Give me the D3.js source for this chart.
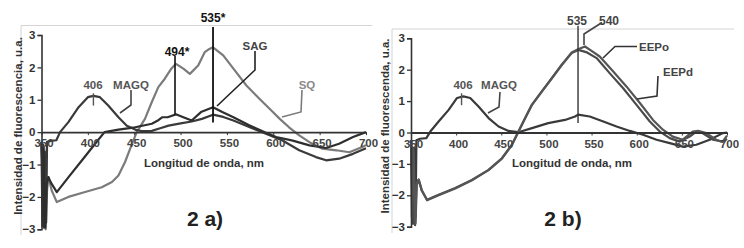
<!DOCTYPE html>
<html><head><meta charset="utf-8">
<script src="https://cdn.jsdelivr.net/npm/d3@7"></script>
<style>
html,body{margin:0;padding:0;background:#fff;}
svg{display:block;font-family:"Liberation Sans",Arial,sans-serif;font-weight:bold;}
</style></head>
<body>
<svg id="c" width="744" height="248"></svg>
<script>
// ---------- data ----------
const xTicks = [350, 400, 450, 500, 550, 600, 650, 700];
const yTicks = [-3, -2, -1, 0, 1, 2, 3];
const xTitle = "Longitud de onda, nm";
const yTitleA = "Intensidad de fluorescencia, u.a.";
const yTitleB = "Intensidad de fluorescenda, u.a.";

// Panel 2 a) : [wavelength nm, intensity]
const magqA = [[350,-0.3],[351.5,-1.5],[352.5,-2.95],[353.5,-0.6],[355,-2.8],[356,-0.3],[360,-0.27],[366,-0.25],[370,0],[379,0.31],[390,0.77],[400,1.08],[406,1.12],[413,1.08],[422,0.82],[433,0.46],[442,0.2],[451,0.08],[458,0.03],[469,0.04],[478,0.12],[487,0.2],[500,0.27],[512,0.33],[523,0.41],[535,0.54],[546,0.47],[557,0.36],[574,0.16],[592,-0.05],[610,-0.26],[628,-0.56],[646,-0.77],[657,-0.87],[671,-0.82],[686,-0.67],[700,-0.5]];
const sagA = [[350,-0.3],[351,-2.9],[352,-0.4],[354,-2.95],[355.5,-1.6],[357.5,-1.39],[360,-1.55],[366.5,-1.85],[380,-1.36],[395,-0.82],[410,-0.28],[418,0],[433,0.08],[451,0.15],[469,0.26],[475,0.35],[480,0.46],[486,0.46],[490,0.5],[495,0.55],[503,0.46],[512,0.36],[522,0.62],[535,0.77],[545,0.62],[557,0.46],[574,0.21],[589,0.02],[603,-0.15],[621,-0.26],[639,-0.41],[657,-0.49],[671,-0.36],[686,-0.15],[700,0]];
const sqA = [[350,-0.3],[352,-2.8],[353,-0.5],[354.5,-3.0],[356,-1.8],[357.5,-1.39],[361,-1.8],[366.5,-2.16],[379,-2.0],[397,-1.85],[415,-1.7],[426,-1.54],[433,-1.34],[440,-0.93],[447,-0.41],[452.7,0],[461.6,0.41],[469,0.93],[476,1.39],[483,1.65],[490,1.96],[495,2.11],[503,1.96],[510,1.8],[519,2.06],[526,2.47],[530,2.55],[535,2.62],[546,2.37],[557,1.96],[571,1.44],[585,1.03],[596,0.72],[607,0.41],[617,0.15],[628,-0.1],[639,-0.31],[653,-0.51],[668,-0.56],[682,-0.62],[696,-0.46],[700,-0.4]];

// Panel 2 b)
const magqB = [[350,-0.25],[351.5,-1.4],[352.5,-2.9],[353.5,-0.5],[355,-2.7],[356,-0.25],[360,-0.2],[367,-0.18],[371.4,0.03],[380.6,0.35],[391.7,0.72],[401,1.1],[408,1.15],[415.6,1.1],[424.8,0.83],[435.9,0.46],[447,0.19],[458,0.05],[469,0.01],[484,0.14],[502,0.3],[520.6,0.4],[531.7,0.51],[535,0.57],[548,0.51],[563,0.35],[577.7,0.19],[592.4,0.05],[607,-0.07],[622,-0.23],[636.6,-0.34],[651,-0.45],[666,-0.39],[680.8,-0.23],[695.5,-0.02],[700,0]];
const eepdB = [[350,-0.25],[352,-2.9],[353,-0.6],[354.5,-2.95],[356,-1.7],[358.5,-1.5],[362,-1.85],[367.8,-2.14],[380.6,-1.98],[399,-1.77],[417.5,-1.51],[435.9,-1.19],[450.7,-0.82],[461.7,-0.39],[469,0.03],[476.4,0.46],[483.8,0.88],[494.9,1.31],[505.9,1.73],[517,2.16],[528,2.53],[535.3,2.63],[545,2.55],[555.6,2.37],[570,1.89],[585,1.41],[599.8,0.88],[614.5,0.35],[625.6,0.03],[636.6,-0.18],[647.7,-0.29],[658.7,-0.13],[666,0.03],[672,0.0],[684.5,-0.23],[695.5,-0.29],[700,-0.2]];
const eepoB = [[350,-0.25],[351,-2.7],[352.5,-0.5],[355,-2.9],[356.5,-1.6],[358.5,-1.5],[362,-1.85],[367.8,-2.16],[380.6,-2.0],[399,-1.78],[417.5,-1.52],[435.9,-1.2],[450.7,-0.83],[461.7,-0.4],[469,0.02],[476.4,0.45],[483.8,0.87],[494.9,1.3],[505.9,1.72],[517,2.15],[528,2.55],[535,2.65],[542.7,2.74],[550,2.6],[559,2.42],[574,1.94],[588.8,1.46],[603.5,0.94],[618,0.4],[629,0.09],[640,-0.13],[651,-0.23],[662,0.03],[668,0.05],[677,-0.02],[688,-0.23],[695,-0.3],[700,-0.1]];

// ---------- drawing ----------
const svg = d3.select("#c");

function panel(cfg) {
  const g = svg.append("g");
  const x = d3.scaleLinear().domain([350, 700]).range(cfg.xr);
  const y = d3.scaleLinear().domain([-3, 3]).range(cfg.yr);

  // frame
  g.append("path").attr("d", cfg.frame).attr("fill", "none").attr("stroke", "#d4d4d4").attr("stroke-width", 1);

  // series
  const line = d3.line().x(d => x(d[0])).y(d => y(d[1]));
  cfg.series.forEach(s => {
    g.append("path").datum(s.data).attr("d", line).attr("fill", "none")
      .attr("stroke", s.color).attr("stroke-width", s.w || 2.2).attr("stroke-linejoin", "round");
  });

  // axes
  const yAx = g.append("g").attr("transform", `translate(${x(350)},0)`)
    .call(d3.axisLeft(y).tickValues(yTicks).tickSize(4).tickFormat(d3.format("d")));
  yAx.select(".domain").attr("stroke", "#333").attr("stroke-width", 1.6);
  yAx.selectAll(".tick line").attr("stroke", "#333").attr("stroke-width", 1.3);
  yAx.selectAll("text").attr("font-size", 11.5).attr("font-weight", "bold").attr("fill", "#333")
    .attr("font-family", "Liberation Sans, Arial, sans-serif").attr("x", -6);

  const xAx = g.append("g").attr("transform", `translate(0,${y(0)})`)
    .call(d3.axisBottom(x).tickValues(xTicks).tickSize(3).tickSizeOuter(0));
  xAx.select(".domain").attr("stroke", "#333").attr("stroke-width", 1.8);
  xAx.selectAll(".tick line").attr("stroke", "#333");
  xAx.selectAll("text").attr("font-size", 11.5).attr("font-weight", "bold").attr("fill", "#444")
    .attr("font-family", "Liberation Sans, Arial, sans-serif").attr("dx", 2).attr("y", 7);

  // titles
  g.append("text").attr("x", cfg.xTitleX).attr("y", 167).attr("text-anchor", "middle")
    .attr("font-size", 11.5).attr("fill", "#333").text(xTitle);
  g.append("text").attr("transform", `translate(${cfg.yTitleX},${cfg.yTitleY}) rotate(-90)`)
    .attr("text-anchor", "middle").attr("font-size", 11.5).attr("fill", "#333").text(cfg.yTitle);
  g.append("text").attr("x", cfg.tagX).attr("y", 226).attr("text-anchor", "middle")
    .attr("font-size", 21).attr("fill", "#222").text(cfg.tag);

  // annotations
  cfg.marks.forEach(m => {
    g.append("line").attr("x1", x(m.nm)).attr("x2", x(m.nm)).attr("y1", y(m.v1)).attr("y2", y(m.v2))
      .attr("stroke", m.color).attr("stroke-width", m.w);
  });
  cfg.leaders.forEach(l => {
    g.append("path").attr("d", d3.line()(l.pts)).attr("fill", "none")
      .attr("stroke", l.color).attr("stroke-width", 1.6);
  });
  cfg.labels.forEach(t => {
    g.append("text").attr("x", t.x).attr("y", t.y).attr("text-anchor", t.anchor || "middle")
      .attr("font-size", t.size || 11.5).attr("fill", t.color).text(t.text);
  });
  return {x, y};
}

// Panel a
panel({
  xr: [41.5, 366], yr: [229.3, 35],
  frame: "M21,235V25.5H372",
  series: [
    {data: sqA, color: "#7b7b7b"},
    {data: magqA, color: "#3a3a3a"},
    {data: sagA, color: "#2e2e2e"}
  ],
  xTitleX: 204, yTitleX: 22, yTitleY: 126, yTitle: yTitleA,
  tagX: 205, tag: "2 a)",
  marks: [
    {nm: 535, v1: 3.25, v2: 0.3, color: "#111", w: 1.8},
    {nm: 494, v1: 2.35, v2: 0.55, color: "#111", w: 1.6},
    {nm: 406, v1: 1.2, v2: 0.82, color: "#555", w: 1.4}
  ],
  leaders: [
    {pts: [[131,90],[131,105],[120,113]], color: "#444"},
    {pts: [[255,51],[255,70],[217,106]], color: "#222"},
    {pts: [[302,90],[301,112],[282,117]], color: "#7b7b7b"}
  ],
  labels: [
    {x: 213, y: 22, text: "535*", color: "#111", size: 12},
    {x: 177, y: 56, text: "494*", color: "#111", size: 12},
    {x: 93, y: 89, text: "406", color: "#555"},
    {x: 131, y: 89, text: "MAGQ", color: "#555"},
    {x: 255, y: 50, text: "SAG", color: "#444"},
    {x: 307, y: 89, text: "SQ", color: "#8a8a8a"}
  ]
});

// Panel b
panel({
  xr: [411, 727], yr: [226.7, 38.3],
  frame: "M392,233V29H734",
  series: [
    {data: magqB, color: "#3a3a3a"},
    {data: eepdB, color: "#4a4a4a"},
    {data: eepoB, color: "#555"}
  ],
  xTitleX: 572, yTitleX: 389, yTitleY: 126, yTitle: yTitleB,
  tagX: 563, tag: "2 b)",
  marks: [
    {nm: 535, v1: 3.4, v2: 0.3, color: "#333", w: 1.4},
    {nm: 406, v1: 1.25, v2: 0.87, color: "#555", w: 1.4}
  ],
  leaders: [
    {pts: [[602,22.5],[584,34],[584,45]], color: "#444"},
    {pts: [[637,46.5],[615,46.5],[603,58]], color: "#333"},
    {pts: [[658,76],[657,96],[637,99]], color: "#333"},
    {pts: [[500,92],[499,107],[488,113]], color: "#444"}
  ],
  labels: [
    {x: 577, y: 25, text: "535", color: "#444", size: 12},
    {x: 609, y: 25, text: "540", color: "#444", size: 12},
    {x: 463, y: 89, text: "406", color: "#555"},
    {x: 499, y: 89, text: "MAGQ", color: "#555"},
    {x: 639, y: 51, text: "EEPo", color: "#444", anchor: "start"},
    {x: 663, y: 76, text: "EEPd", color: "#444", anchor: "start"}
  ]
});
</script>
</body></html>
